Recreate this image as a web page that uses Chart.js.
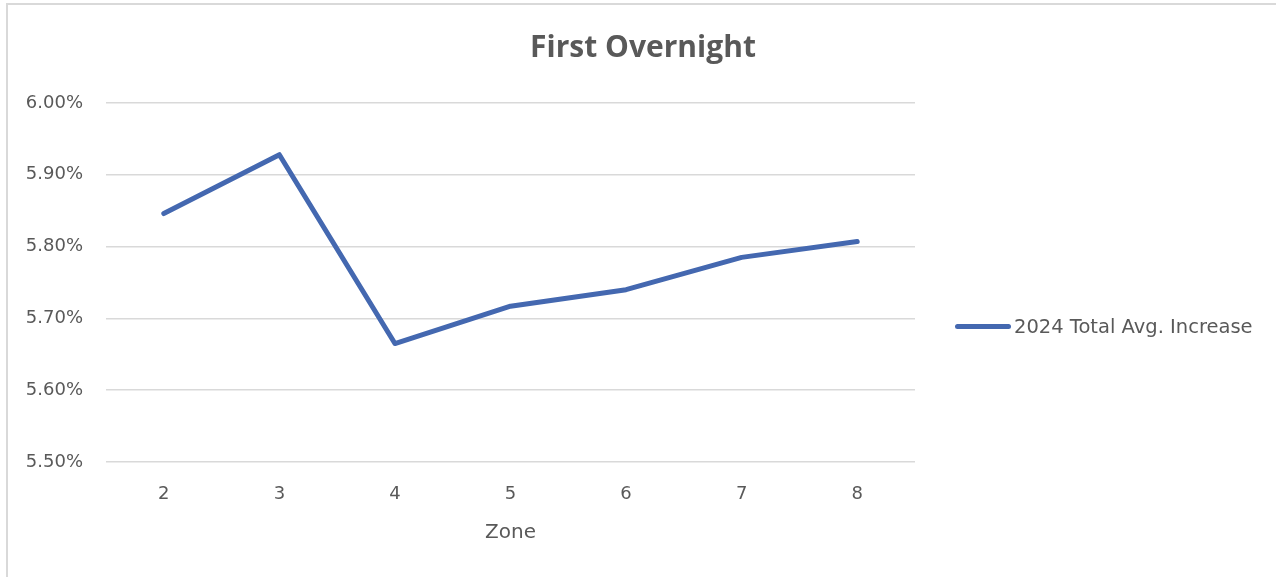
<!DOCTYPE html>
<html>
<head>
<meta charset="utf-8">
<script src="https://cdn.jsdelivr.net/npm/chart.js@4"></script>
<style>
  html,body{margin:0;padding:0;background:#fff;overflow:hidden;}
  #wrap{position:absolute;left:0;top:0;width:1276px;height:577px;}
  #frame{position:absolute;left:6px;top:3px;width:1270px;height:574px;border-top:2px solid #d9d9d9;border-left:2px solid #d9d9d9;box-sizing:border-box;}
  #legend{position:absolute;left:955px;top:312px;height:28px;display:flex;align-items:center;font:19.5px "DejaVu Sans";color:#595959;white-space:nowrap;}
  #legend span.mk{display:inline-block;width:56px;height:5px;border-radius:3px;margin-right:3px;}
</style>
</head>
<body>
<div id="wrap">
  <div id="frame"></div>
  <canvas id="c" width="1276" height="577"></canvas>
  <div id="legend"></div>
</div>
<script>
const zones=['2','3','4','5','6','7','8'];
const avgIncrease=[5.846,5.928,5.665,5.717,5.740,5.785,5.807];
const seriesName='2024 Total Avg. Increase';
const yTicks=[5.5,5.6,5.7,5.8,5.9,6.0];
const lineColor='#4468B0';
const txt='#595959';

const lg=document.getElementById('legend');
lg.innerHTML=`<span class="mk" style="background:${lineColor}"></span>${seriesName}`;

new Chart(document.getElementById('c'),{
  type:'line',
  data:{labels:zones,datasets:[{label:seriesName,data:avgIncrease,borderColor:lineColor,borderWidth:5,
    pointRadius:0,pointHoverRadius:0,tension:0,borderCapStyle:'round',borderJoinStyle:'round',fill:false}]},
  options:{
    responsive:false,animation:false,
    layout:{padding:{left:10,right:0,top:0,bottom:0}},
    plugins:{
      legend:{display:false},tooltip:{enabled:false},
      title:{display:true,text:'First Overnight',color:txt,
        font:{family:'"Open Sans"',size:30,weight:'bold'},padding:{top:30,bottom:37}}
    },
    scales:{
      x:{offset:true,
        grid:{display:false,drawTicks:false},border:{display:false},
        ticks:{color:txt,font:{family:'"DejaVu Sans"',size:18},padding:22,maxRotation:0},
        title:{display:true,text:'Zone',color:txt,font:{family:'"DejaVu Sans"',size:20},padding:{top:8,bottom:32}},
        afterFit(s){s.height=115;}
      },
      y:{min:5.5,max:6.0,
        afterBuildTicks(s){s.ticks=yTicks.map(v=>({value:v}));},
        grid:{color:'#d9d9d9',lineWidth:1.5,drawTicks:false},border:{display:false},
        ticks:{color:txt,font:{family:'"DejaVu Sans"',size:18},padding:23,callback:v=>v.toFixed(2)+'%'},
        afterFit(s){s.width=96;}
      },
      // empty right-hand space where the legend sits
      yr:{position:'right',display:true,min:0,max:1,
        grid:{display:false,drawTicks:false},border:{display:false},ticks:{display:false},
        afterFit(s){s.width=361;}
      }
    }
  }
});
</script>
</body>
</html>
